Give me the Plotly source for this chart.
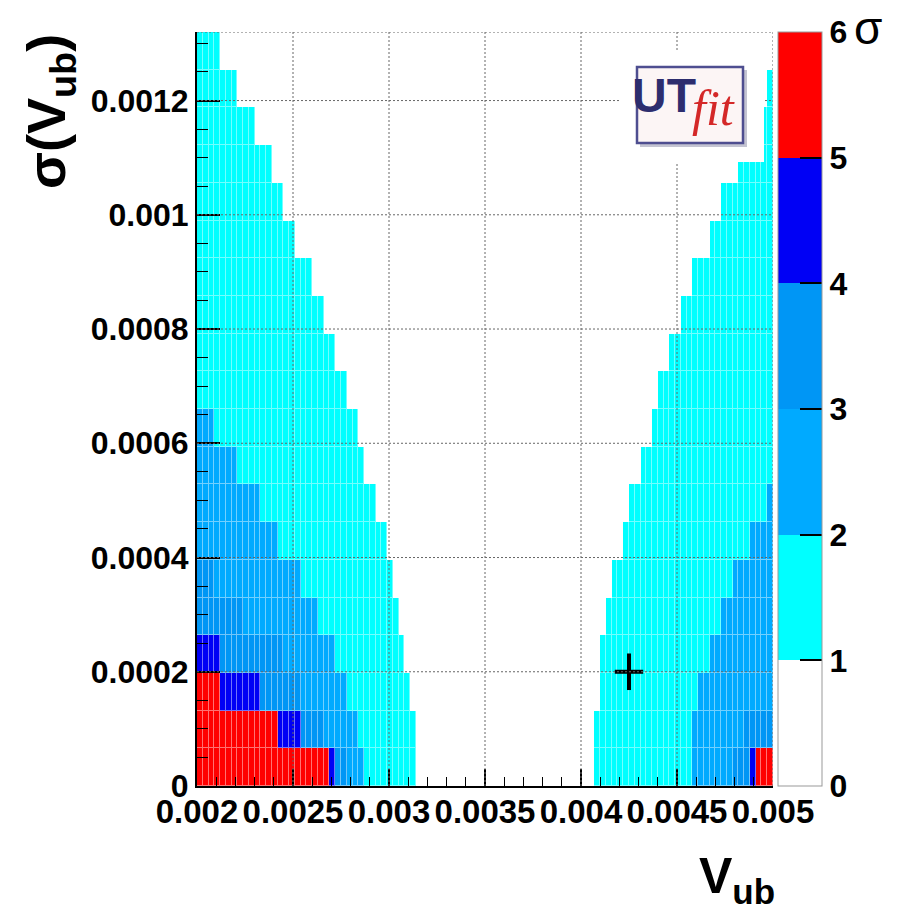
import numpy as np
import plotly.graph_objects as go

# ---------------- data ----------------
X_MIN, X_MAX, NX = 0.002, 0.005, 100
Y_MIN, Y_MAX, NY = 0.0, 0.00132, 20

# contour edges per sigma(Vub) row (row 0 = bottom); left: level reached for Vub < edge
LEFT_1SIG = [0.00314, 0.00314, 0.00311, 0.00308, 0.00305, 0.00302, 0.00299, 0.00293, 0.00287, 0.00284,
             0.00278, 0.00272, 0.00266, 0.00260, 0.00251, 0.00245, 0.00239, 0.00230, 0.00221, 0.00212]
LEFT_2SIG = [0.00287, 0.00284, 0.00278, 0.00272, 0.00263, 0.00254, 0.00242, 0.00233, 0.00221, 0.00209]
LEFT_3SIG = [0.00278, 0.00266, 0.00254, 0.00245, 0.00224, 0.00209]
LEFT_4SIG = [0.00272, 0.00254, 0.00233, 0.00212]
LEFT_5SIG = [0.00269, 0.00242, 0.00212]
# right: level reached for Vub > edge
RIGHT_1SIG = [0.00407, 0.00407, 0.00410, 0.00410, 0.00413, 0.00416, 0.00422, 0.00425, 0.00431, 0.00437,
              0.00440, 0.00446, 0.00452, 0.00458, 0.00467, 0.00473, 0.00482, 0.00491, 0.00497, 0.00500]
RIGHT_2SIG = [0.00458, 0.00458, 0.00461, 0.00467, 0.00473, 0.00479, 0.00488, 0.00497]
RIGHT_3SIG = [0.00479, 0.00485]
RIGHT_4SIG = [0.00488]
RIGHT_5SIG = [0.00491]

MEAS_V = [0.00425]
MEAS_SIG = [0.0002]
ERR_V = [0.000074]
ERR_SIG = [0.000032]

X_TICKS = [0.002, 0.0025, 0.003, 0.0035, 0.004, 0.0045, 0.005]
X_TICKTEXT = ["0.002", "0.0025", "0.003", "0.0035", "0.004", "0.0045", "0.005"]
Y_TICKS = [0, 0.0002, 0.0004, 0.0006, 0.0008, 0.001, 0.0012]
Y_TICKTEXT = ["0", "0.0002", "0.0004", "0.0006", "0.0008", "0.001", "0.0012"]
CB_TICKS = [0, 1, 2, 3, 4, 5, 6]

LEVEL_COLORS = ["#ffffff", "#00ffff", "#00aaff", "#0096f5", "#0000f5", "#ff0000"]

# ---------------- build grid ----------------
dx = (X_MAX - X_MIN) / NX
dy = (Y_MAX - Y_MIN) / NY
xc = X_MIN + (np.arange(NX) + 0.5) * dx
yc = Y_MIN + (np.arange(NY) + 0.5) * dy


def pad(a, v):
    return list(a) + [v] * (NY - len(a))


lefts = [LEFT_1SIG, LEFT_2SIG, LEFT_3SIG, LEFT_4SIG, LEFT_5SIG]
rights = [RIGHT_1SIG, RIGHT_2SIG, RIGHT_3SIG, RIGHT_4SIG, RIGHT_5SIG]
level = np.zeros((NY, NX))
for k, (le, ri) in enumerate(zip(lefts, rights), start=1):
    le = pad(le, X_MIN)
    ri = pad(ri, X_MAX)
    for j in range(NY):
        m = (xc < le[j]) | (xc > ri[j])
        level[j, m] = np.maximum(level[j, m], k)
z = level + 0.5


def mix(c, f):
    c = c.lstrip("#")
    r, g, b = int(c[0:2], 16), int(c[2:4], 16), int(c[4:6], 16)
    r = int(r + (255 - r) * f); g = int(g + (255 - g) * f); b = int(b + (255 - b) * f)
    return f"rgb({r},{g},{b})"


def discrete(colors):
    cs = []
    n = len(colors)
    for i, c in enumerate(colors):
        cs.append([i / n, c])
        cs.append([(i + 1) / n, c])
    return cs


# ---------------- layout geometry (reference-window pixels) ----------------
OFF = 8                      # page body margin
W, H = 904 - OFF, 914 - OFF
L, R, T, B = 197, 773, 32, 786
PW, PH = R - L, B - T


def fx(p):
    return (p - L) / PW


def fy(p):
    return (B - p) / PH


FONT = "Liberation Sans"

fig = go.Figure()
# light underlay -> faint bin borders
fig.add_trace(go.Heatmap(x=xc, y=yc, z=z, zmin=0, zmax=6,
                         colorscale=discrete([mix(c, 0.45) for c in LEVEL_COLORS]),
                         showscale=False, hoverinfo="skip"))
fig.add_trace(go.Heatmap(
    x=xc, y=yc, z=z, zmin=0, zmax=6, xgap=1, ygap=1,
    colorscale=discrete(LEVEL_COLORS), hoverinfo="skip",
    colorbar=dict(
        x=fx(778), xanchor="left", y=0.5, yanchor="middle", len=1, lenmode="fraction",
        thickness=44, thicknessmode="pixels", xpad=0, ypad=0,
        outlinewidth=1, outlinecolor="#999999",
        tickmode="array", tickvals=CB_TICKS, ticktext=[str(v) for v in CB_TICKS],
        ticks="inside", ticklen=22, tickwidth=1.5, tickcolor="black",
        tickfont=dict(family=FONT, size=32, color="black", weight="bold"),
    )))

fig.add_trace(go.Scatter(
    x=MEAS_V, y=MEAS_SIG, mode="markers",
    marker=dict(size=1, color="black"),
    error_x=dict(type="data", array=ERR_V, width=0, thickness=4, color="black"),
    error_y=dict(type="data", array=ERR_SIG, width=0, thickness=4, color="black"),
    hoverinfo="skip", showlegend=False))

shapes = []
grid = dict(color="#666666", width=1, dash="2px,2px")
for v in X_TICKS[1:]:
    shapes.append(dict(type="line", xref="x", yref="paper", x0=v, x1=v, y0=0, y1=1,
                       line=grid, layer="above"))
for v in Y_TICKS[1:] + [Y_MAX]:
    shapes.append(dict(type="line", xref="paper", yref="y", x0=0, x1=1, y0=v, y1=v,
                       line=grid, layer="above"))

# UTfit logo (image with white margin)
shapes.append(dict(type="rect", xref="paper", yref="paper", x0=fx(621), x1=fx(764), y0=fy(162), y1=fy(50),
                   fillcolor="white", line=dict(width=0), layer="above"))
shapes.append(dict(type="rect", xref="paper", yref="paper", x0=fx(640), x1=fx(747), y0=fy(147), y1=fy(70),
                   fillcolor="#c4c4d2", line=dict(width=0), layer="above"))
shapes.append(dict(type="rect", xref="paper", yref="paper", x0=fx(637), x1=fx(743), y0=fy(143), y1=fy(67),
                   fillcolor="#fcf5f5", line=dict(color="#4e4e90", width=2.5), layer="above"))

annotations = [
    dict(text="σ(V<sub>ub</sub>)", x=fx(50), y=fy(112), xref="paper", yref="paper", textangle=-90,
         showarrow=False, xanchor="center", yanchor="middle",
         font=dict(family=FONT, size=54, color="black", weight="bold")),
    dict(text="V<sub>ub</sub>", x=fx(777), y=fy(879), xref="paper", yref="paper",
         showarrow=False, xanchor="right", yanchor="middle",
         font=dict(family=FONT, size=50, color="black", weight="bold")),
    dict(text="σ", x=fx(868), y=fy(28), xref="paper", yref="paper",
         showarrow=False, xanchor="center", yanchor="middle",
         font=dict(family=FONT, size=46, color="black")),
    dict(text="UT", x=fx(664), y=fy(96), xref="paper", yref="paper",
         showarrow=False, xanchor="center", yanchor="middle",
         font=dict(family="Liberation Sans Narrow, Liberation Sans", size=48, color="#2d2d6e", weight="bold")),
    dict(text="<i>fit</i>", x=fx(713), y=fy(108), xref="paper", yref="paper",
         showarrow=False, xanchor="center", yanchor="middle",
         font=dict(family="Liberation Serif", size=50, color="#d42828")),
]

fig.update_layout(
    width=W, height=H,
    margin=dict(l=L - OFF, r=W - (R - OFF), t=T - OFF, b=H - (B - OFF), pad=0, autoexpand=False),
    paper_bgcolor="white", plot_bgcolor="white", showlegend=False,
    shapes=shapes, annotations=annotations,
    xaxis=dict(range=[X_MIN, X_MAX], tickmode="array", tickvals=X_TICKS, ticktext=X_TICKTEXT,
               tickangle=0, ticks="inside", ticklen=17, tickwidth=1.5, tickcolor="black",
               minor=dict(tickmode="linear", tick0=X_MIN, dtick=0.0001, ticks="inside", ticklen=9,
                          tickwidth=1.2, tickcolor="black", showgrid=False),
               showgrid=False, zeroline=False, showline=True, linecolor="black", linewidth=2,
               layer="above traces", ticklabelstandoff=-5, automargin=False,
               tickfont=dict(family=FONT, size=33, color="black", weight="bold")),
    yaxis=dict(range=[Y_MIN, Y_MAX], tickmode="array", tickvals=Y_TICKS, ticktext=Y_TICKTEXT,
               ticks="inside", ticklen=23, tickwidth=1.5, tickcolor="black",
               minor=dict(tickmode="linear", tick0=0, dtick=0.00005, ticks="inside", ticklen=11,
                          tickwidth=1.2, tickcolor="black", showgrid=False),
               showgrid=False, zeroline=False, showline=True, linecolor="black", linewidth=2,
               layer="above traces", ticklabelstandoff=0, automargin=False,
               tickfont=dict(family=FONT, size=32, color="black", weight="bold")),
)

fig.write_html("out.html")
